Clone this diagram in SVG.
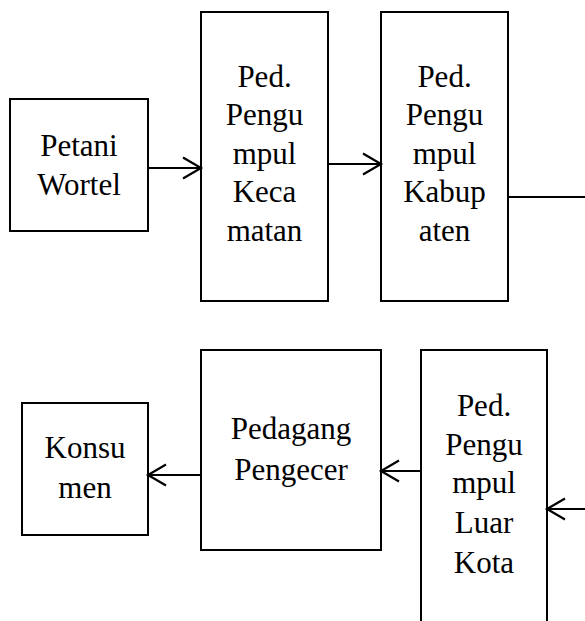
<svg xmlns="http://www.w3.org/2000/svg" width="585" height="621" viewBox="0 0 585 621">
<style>
.box{fill:#fff;stroke:#000;stroke-width:2}
.lbl{font-size:31px;fill:#000;text-anchor:middle}
.con{stroke:#000;stroke-width:2;fill:none}
</style>
<defs>
<marker id="arr" viewBox="0 0 20 24" refX="19" refY="12" markerWidth="20" markerHeight="24" markerUnits="userSpaceOnUse" orient="auto" overflow="visible">
<path d="M1 1.5 L19 12 L1 22.5" fill="none" stroke="#000" stroke-width="2.2"/>
</marker>
</defs>
<rect width="585" height="621" fill="#fff"/>
<g font-family="'Liberation Serif', 'DejaVu Serif', serif">
<g id="petani">
<rect class="box" x="10" y="99" width="138" height="132"/>
<text class="lbl" x="79" y="156">Petani</text>
<text class="lbl" x="79" y="195">Wortel</text>
</g>
<g id="kecamatan">
<rect class="box" x="201" y="12" width="127" height="289"/>
<text class="lbl" x="264.5" y="87">Ped.</text>
<text class="lbl" x="264.5" y="125">Pengu</text>
<text class="lbl" x="264.5" y="164">mpul</text>
<text class="lbl" x="264.5" y="202">Keca</text>
<text class="lbl" x="264.5" y="241">matan</text>
</g>
<g id="kabupaten">
<rect class="box" x="381" y="12" width="127" height="289"/>
<text class="lbl" x="444.5" y="87">Ped.</text>
<text class="lbl" x="444.5" y="125">Pengu</text>
<text class="lbl" x="444.5" y="164">mpul</text>
<text class="lbl" x="444.5" y="202">Kabup</text>
<text class="lbl" x="444.5" y="241">aten</text>
</g>
<g id="konsumen">
<rect class="box" x="22" y="403" width="126" height="132"/>
<text class="lbl" x="85" y="458">Konsu</text>
<text class="lbl" x="85" y="498">men</text>
</g>
<g id="pengecer">
<rect class="box" x="201" y="350" width="180" height="200"/>
<text class="lbl" x="291" y="439">Pedagang</text>
<text class="lbl" x="291" y="480">Pengecer</text>
</g>
<g id="luarkota">
<rect class="box" x="421" y="350" width="126" height="290"/>
<text class="lbl" x="484" y="416">Ped.</text>
<text class="lbl" x="484" y="455">Pengu</text>
<text class="lbl" x="484" y="493">mpul</text>
<text class="lbl" x="484" y="533">Luar</text>
<text class="lbl" x="484" y="573">Kota</text>
</g>
</g>
<g id="connectors">
<line class="con" x1="148" y1="168" x2="201" y2="168" marker-end="url(#arr)"/>
<line class="con" x1="328" y1="164" x2="381" y2="164" marker-end="url(#arr)"/>
<line class="con" x1="508" y1="197" x2="586" y2="197"/>
<line class="con" x1="586" y1="509" x2="547" y2="509" marker-end="url(#arr)"/>
<line class="con" x1="421" y1="471" x2="381" y2="471" marker-end="url(#arr)"/>
<line class="con" x1="201" y1="475" x2="148" y2="475" marker-end="url(#arr)"/>
</g>
</svg>
